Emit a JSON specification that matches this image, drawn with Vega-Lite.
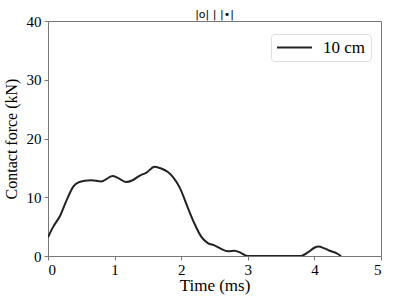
{
  "$schema": "https://vega.github.io/schema/vega-lite/v6.json",
  "autosize": "none",
  "width": 333,
  "height": 235,
  "padding": {"left": 48, "top": 21, "right": 14, "bottom": 48},
  "background": "white",
  "title": {"text": "|o|  |  |•|", "font": "DejaVu Sans", "fontSize": 11, "fontWeight": "normal", "color": "#000", "offset": -6, "anchor": "middle"},
  "config": {
    "view": {"stroke": "#777", "strokeWidth": 1},
    "font": "Liberation Serif",
    "axis": {"domainColor": "#777", "tickColor": "#777", "labelFont": "Liberation Serif", "titleFont": "Liberation Serif", "labelFontSize": 15, "titleFontSize": 17, "titleFontWeight": "normal", "labelColor": "#000", "titleColor": "#000", "grid": false, "tickSize": 4}
  },
  "data": {"values": [
    {"t": 0.0, "f": 3.2, "s": "10 cm"},
    {"t": 0.08, "f": 5.0, "s": "10 cm"},
    {"t": 0.18, "f": 6.8, "s": "10 cm"},
    {"t": 0.28, "f": 9.5, "s": "10 cm"},
    {"t": 0.38, "f": 11.8, "s": "10 cm"},
    {"t": 0.45, "f": 12.5, "s": "10 cm"},
    {"t": 0.55, "f": 12.8, "s": "10 cm"},
    {"t": 0.65, "f": 12.9, "s": "10 cm"},
    {"t": 0.8, "f": 12.7, "s": "10 cm"},
    {"t": 0.97, "f": 13.6, "s": "10 cm"},
    {"t": 1.05, "f": 13.3, "s": "10 cm"},
    {"t": 1.17, "f": 12.6, "s": "10 cm"},
    {"t": 1.27, "f": 12.9, "s": "10 cm"},
    {"t": 1.38, "f": 13.7, "s": "10 cm"},
    {"t": 1.48, "f": 14.2, "s": "10 cm"},
    {"t": 1.6, "f": 15.2, "s": "10 cm"},
    {"t": 1.7, "f": 14.9, "s": "10 cm"},
    {"t": 1.8, "f": 14.3, "s": "10 cm"},
    {"t": 1.88, "f": 13.4, "s": "10 cm"},
    {"t": 1.98, "f": 11.6, "s": "10 cm"},
    {"t": 2.1, "f": 8.2, "s": "10 cm"},
    {"t": 2.2, "f": 5.5, "s": "10 cm"},
    {"t": 2.3, "f": 3.3, "s": "10 cm"},
    {"t": 2.4, "f": 2.2, "s": "10 cm"},
    {"t": 2.5, "f": 1.8, "s": "10 cm"},
    {"t": 2.6, "f": 1.2, "s": "10 cm"},
    {"t": 2.7, "f": 0.8, "s": "10 cm"},
    {"t": 2.8, "f": 0.9, "s": "10 cm"},
    {"t": 2.9, "f": 0.5, "s": "10 cm"},
    {"t": 3.0, "f": 0.0, "s": "10 cm"},
    {"t": 3.4, "f": 0.0, "s": "10 cm"},
    {"t": 3.8, "f": 0.0, "s": "10 cm"},
    {"t": 3.9, "f": 0.6, "s": "10 cm"},
    {"t": 4.0, "f": 1.4, "s": "10 cm"},
    {"t": 4.06, "f": 1.6, "s": "10 cm"},
    {"t": 4.15, "f": 1.3, "s": "10 cm"},
    {"t": 4.25, "f": 0.8, "s": "10 cm"},
    {"t": 4.33, "f": 0.5, "s": "10 cm"},
    {"t": 4.4, "f": 0.0, "s": "10 cm"}
  ]},
  "mark": {"type": "line", "interpolate": "monotone", "strokeWidth": 2, "clip": true},
  "encoding": {
    "x": {"field": "t", "type": "quantitative", "title": "Time (ms)", "scale": {"domain": [0, 5], "nice": false}, "axis": {"values": [0, 1, 2, 3, 4, 5], "titlePadding": 0, "labelPadding": 2}},
    "y": {"field": "f", "type": "quantitative", "title": "Contact force (kN)", "scale": {"domain": [0, 40], "nice": false}, "axis": {"values": [0, 10, 20, 30, 40], "titlePadding": 7, "labelPadding": 3, "titleFontSize": 16}},
    "color": {"field": "s", "type": "nominal", "title": null, "scale": {"range": ["#222"]},
      "legend": {"orient": "none", "legendX": 223, "legendY": 13, "symbolType": "M-3,0H3", "symbolSize": 136, "symbolStrokeWidth": 2, "symbolFillColor": "transparent", "labelFontSize": 17, "labelFont": "Liberation Serif", "labelColor": "#000", "strokeColor": "#ddd", "fillColor": "white", "cornerRadius": 4, "padding": 5, "symbolOffset": 10, "labelOffset": 20}}
  }
}
